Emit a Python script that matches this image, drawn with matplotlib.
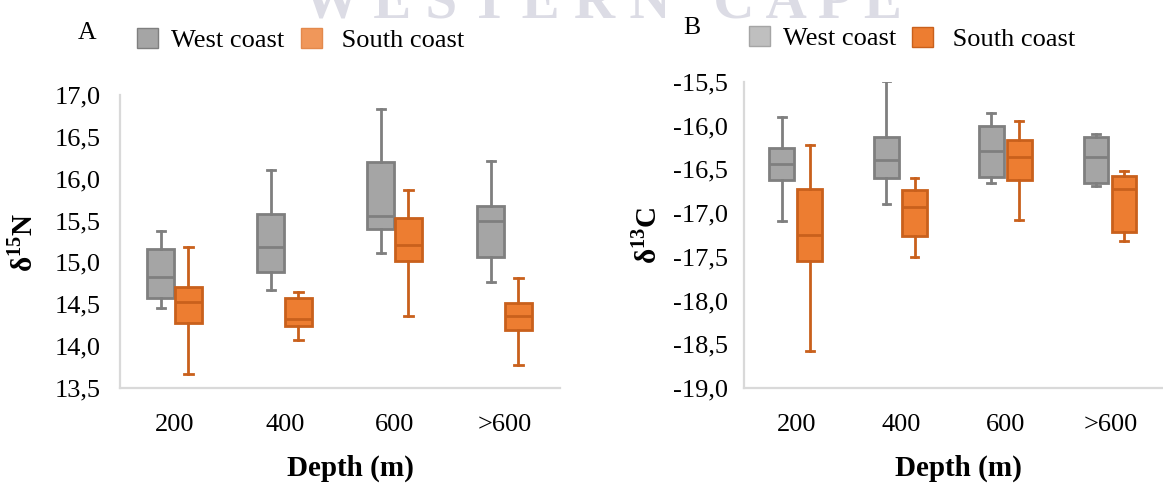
import matplotlib
matplotlib.use("Agg")
import matplotlib.pyplot as plt
from matplotlib.patches import Patch
from matplotlib.ticker import FuncFormatter, MultipleLocator

plt.rcParams["font.family"] = ["Liberation Serif", "DejaVu Serif"]
plt.rcParams["mathtext.fontset"] = "custom"
plt.rcParams["mathtext.rm"] = "Liberation Serif"
plt.rcParams["mathtext.bf"] = "Liberation Serif:bold"

depths = ["200", "400", "600", ">600"]
series = ["West coast", "South coast"]

# delta 15N (panel A): whisker low, Q1, median, Q3, whisker high
n15_west_low = [14.45, 14.67, 15.11, 14.77]
n15_west_q1 = [14.57, 14.89, 15.40, 15.06]
n15_west_med = [14.82, 15.19, 15.55, 15.49]
n15_west_q3 = [15.16, 15.58, 16.20, 15.68]
n15_west_high = [15.37, 16.11, 16.83, 16.21]

n15_south_low = [13.67, 14.07, 14.36, 13.78]
n15_south_q1 = [14.28, 14.24, 15.02, 14.19]
n15_south_med = [14.53, 14.32, 15.21, 14.36]
n15_south_q3 = [14.71, 14.57, 15.53, 14.52]
n15_south_high = [15.19, 14.65, 15.87, 14.81]

# delta 13C (panel B)
c13_west_low = [-17.09, -16.90, -16.65, -16.69]
c13_west_q1 = [-16.62, -16.60, -16.59, -16.65]
c13_west_med = [-16.44, -16.39, -16.29, -16.36]
c13_west_q3 = [-16.25, -16.13, -16.00, -16.13]
c13_west_high = [-15.90, -15.49, -15.86, -16.09]

c13_south_low = [-18.58, -17.50, -17.08, -17.32]
c13_south_q1 = [-17.55, -17.26, -16.62, -17.22]
c13_south_med = [-17.25, -16.93, -16.36, -16.72]
c13_south_q3 = [-16.72, -16.74, -16.16, -16.58]
c13_south_high = [-16.22, -16.60, -15.95, -16.52]

WEST_FACE, WEST_EDGE = "#A5A5A5", "#7F7F7F"
SOUTH_FACE, SOUTH_EDGE = "#ED7D31", "#C9601C"
SPINE = "#D9D9D9"

W, H = 1163, 484
fig = plt.figure(figsize=(W / 100, H / 100), dpi=100)


def px_axes(left, top, right, bottom):
    return fig.add_axes([left / W, 1 - bottom / H, (right - left) / W, (bottom - top) / H])


def stats(low, q1, med, q3, high):
    return [dict(whislo=a, q1=b, med=c, q3=d, whishi=e, fliers=[])
            for a, b, c, d, e in zip(low, q1, med, q3, high)]


def draw_boxes(ax, st, pos, width, face, edge):
    ax.bxp(st, positions=pos, widths=width, patch_artist=True,
           showfliers=False, capwidths=0.075,
           boxprops=dict(facecolor=face, edgecolor=edge, linewidth=2.0),
           medianprops=dict(color=edge, linewidth=2.0),
           whiskerprops=dict(color=edge, linewidth=2.0),
           capprops=dict(color=edge, linewidth=2.0))


def style_axis(ax, ylo, yhi, ypad):
    ax.set_xlim(-0.5, len(depths) - 0.5)
    ax.set_ylim(ylo, yhi)
    ax.yaxis.set_major_locator(MultipleLocator(0.5))
    ax.yaxis.set_major_formatter(FuncFormatter(lambda v, p: f"{v:.1f}".replace(".", ",")))
    ax.set_xticks(range(len(depths)))
    ax.set_xticklabels(depths)
    ax.tick_params(axis="both", length=0, labelsize=19, colors="#000000")
    ax.tick_params(axis="y", pad=ypad)
    ax.tick_params(axis="x", pad=19)
    for s in ("top", "right"):
        ax.spines[s].set_visible(False)
    for s in ("left", "bottom"):
        ax.spines[s].set_color(SPINE)
        ax.spines[s].set_linewidth(1.6)
    ax.set_facecolor("none")


idx = list(range(len(depths)))

# Panel A
axA = px_axes(120, 95, 560, 388)
draw_boxes(axA, stats(n15_west_low, n15_west_q1, n15_west_med, n15_west_q3, n15_west_high),
           [i - 0.128 for i in idx], 0.245, WEST_FACE, WEST_EDGE)
draw_boxes(axA, stats(n15_south_low, n15_south_q1, n15_south_med, n15_south_q3, n15_south_high),
           [i + 0.122 for i in idx], 0.245, SOUTH_FACE, SOUTH_EDGE)
style_axis(axA, 13.5, 17.0, 14)

# Panel B
axB = px_axes(744, 82, 1163, 388)
draw_boxes(axB, stats(c13_west_low, c13_west_q1, c13_west_med, c13_west_q3, c13_west_high),
           [i - 0.14 for i in idx], 0.237, WEST_FACE, WEST_EDGE)
draw_boxes(axB, stats(c13_south_low, c13_south_q1, c13_south_med, c13_south_q3, c13_south_high),
           [i + 0.128 for i in idx], 0.237, SOUTH_FACE, SOUTH_EDGE)
style_axis(axB, -19.0, -15.5, 11.5)


def ftext(x, y, s, **kw):
    fig.text(x / W, 1 - y / H, s, **kw)


# faint repository watermark running off the top edge
ftext(602, 18, "W E S T E R N   C A P E", fontsize=41, fontweight="bold",
      color="#DCDCE5", ha="center", va="baseline", zorder=-5)

# axis titles
ftext(350, 468, "Depth (m)", fontsize=21, fontweight="bold", ha="center", va="center")
ftext(958, 468, "Depth (m)", fontsize=21, fontweight="bold", ha="center", va="center")
ftext(23, 242, r"δ$^{\mathbf{15}}$N", fontsize=21, fontweight="bold", rotation=90,
      ha="center", va="center")
ftext(647, 235, r"δ$^{\mathbf{13}}$C", fontsize=21, fontweight="bold", rotation=90,
      ha="center", va="center")

# panel letters
ftext(87, 33, "A", fontsize=18.5, ha="center", va="center")
ftext(692, 28, "B", fontsize=18.5, ha="center", va="center")


def legend_entry(handle, x, y):
    fig.legend(handles=[handle], loc="center left", bbox_to_anchor=(x / W, 1 - y / H),
               frameon=False, fontsize=19, handlelength=0.8, handleheight=0.8,
               handletextpad=0.5, borderpad=0, borderaxespad=0)


# legends, one entry at a time so the spacing can follow the layout
legend_entry(Patch(facecolor=WEST_FACE, edgecolor=WEST_EDGE, label=series[0]), 137, 40)
legend_entry(Patch(facecolor="#F0975A", edgecolor="#E3894C", label=" " + series[1]), 301, 40)
legend_entry(Patch(facecolor="#BFBFBF", edgecolor="#A5A5A5", label=series[0]), 749, 38)
legend_entry(Patch(facecolor=SOUTH_FACE, edgecolor=SOUTH_EDGE, label=" " + series[1]), 912, 39)

fig.savefig("out.png", dpi=100)
